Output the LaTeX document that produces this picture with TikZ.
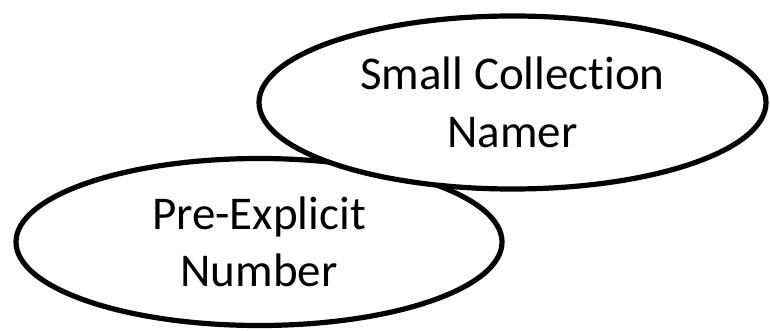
\documentclass[tikz,border=0pt]{standalone}
\usepackage{fontspec}
\setmainfont{Carlito}[Ligatures=NoCommon]
\usetikzlibrary{shapes.geometric}
\tikzset{
  bubble/.style={ellipse, draw=black, line width=5.2pt, fill=white,
    inner sep=0pt, align=center,
    font=\fontsize{47}{57.5}\selectfont},
}
\begin{document}
\begin{tikzpicture}[x=1pt,y=1pt]
  \useasboundingbox (0,0) rectangle (770,330);
  % lower-left ellipse first, the upper one overlaps it
  \node[bubble, minimum width=486pt, minimum height=167pt] (pre) at (259,88)
    {Pre-Explicit\\Number};
  \node[bubble, minimum width=507pt, minimum height=173pt] (small) at (512.5,227.5)
    {Small Collection\\Namer};
\end{tikzpicture}
\end{document}
